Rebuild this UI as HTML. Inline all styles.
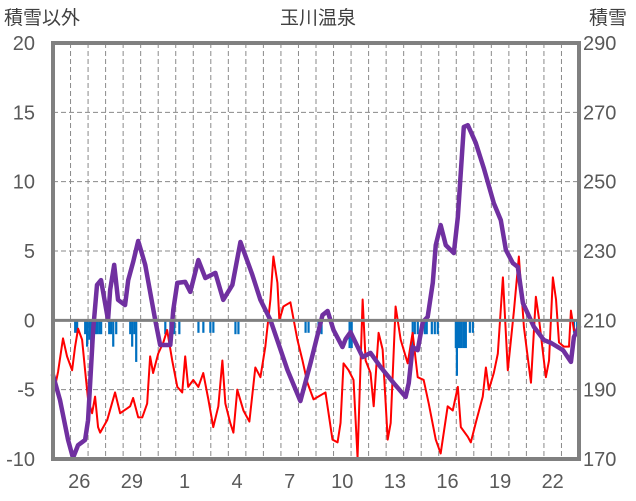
<!DOCTYPE html>
<html><head><meta charset="utf-8"><style>
html,body{margin:0;padding:0;background:#fff;}
svg{display:block;font-family:"Liberation Sans","Noto Sans CJK JP",sans-serif;}
</style></head><body>
<svg id="chart" width="636" height="501" viewBox="0 0 636 501">
<text x="4" y="24" font-size="19" fill="#404040">積雪以外</text>
<text x="318" y="24" font-size="19" fill="#404040" text-anchor="middle">玉川温泉</text>
<text x="589" y="24" font-size="19" fill="#404040">積雪</text>
<g id="grid"></g>
<g id="bars"></g>
<g id="lines"></g>
<g id="axes"></g>
</svg>
<script>
const xLabels = ["26","29","1","4","7","10","13","16","19","22"];
const xLabelDays = [1,4,7,10,13,16,19,22,25,28];
const leftTicks = [20,15,10,5,0,-5,-10];
const rightTicks = [290,270,250,230,210,190,170];
const snowDays = [0,0.4,0.86,1.14,1.43,1.83,2.0,2.29,2.51,2.74,3.14,3.26,3.49,3.71,4.11,4.29,4.57,4.86,5.26,5.83,6.11,6.69,6.86,7.09,7.54,7.83,8.29,8.69,9.26,9.71,10.23,10.69,11.37,11.83,12.4,13.37,14.11,14.69,15.37,15.66,16.0,16.51,16.69,16.97,17.66,18.11,18.69,19.43,20.11,20.29,20.51,20.8,21.09,21.37,21.66,21.83,22.11,22.4,22.86,23.09,23.43,23.66,24.11,24.57,25.14,25.54,25.83,26.23,26.51,26.8,27.43,28.0,28.4,29.09,29.54,29.71,30];
const snowDepth = [194.2,187.0,175.5,170.3,174.0,175.5,181.2,207.2,220.2,221.6,210.1,218.8,226.0,215.9,214.4,221.6,226.8,232.9,226.0,210.1,202.9,202.9,213.0,220.8,221.1,218.2,227.4,222.2,223.7,215.9,220.2,232.6,223.1,215.9,210.1,195.7,186.7,197.7,211.5,212.7,207.2,202.3,204.6,206.6,199.4,200.6,196.5,191.9,187.9,191.9,202.3,201.4,209.5,211.0,220.8,231.7,237.5,231.7,229.4,239.8,265.8,266.3,261.2,253.9,243.8,238.9,230.3,226.5,225.4,215.0,208.1,204.3,203.5,201.4,198.0,205.2,208.1];
const tempDays = [0,.29,.57,.8,1.09,1.26,1.43,1.66,1.83,2.0,2.23,2.4,2.57,2.69,3.09,3.54,3.83,4.4,4.57,4.86,5.09,5.37,5.54,5.71,6.0,6.29,6.51,6.8,7.09,7.37,7.54,7.71,8.0,8.29,8.57,8.86,9.14,9.43,9.66,9.83,10.11,10.29,10.51,10.86,11.2,11.54,11.83,12.11,12.4,12.57,12.8,12.91,13.14,13.54,13.94,14.23,14.51,14.86,15.54,15.94,16.23,16.4,16.57,16.86,17.14,17.37,17.66,17.83,18.11,18.29,18.57,18.8,19.09,19.26,19.54,19.83,20.23,20.51,20.8,21.14,21.43,21.83,22.11,22.51,22.8,23.09,23.26,23.66,23.83,24.11,24.51,24.69,24.86,25.14,25.37,25.66,25.94,26.29,26.57,26.86,27.26,27.54,27.71,28.11,28.29,28.51,28.69,28.86,29.14,29.43,29.54,29.71,30];
const tempValues = [-5.5,-3.7,-1.3,-2.6,-3.6,-1.9,-0.6,-1.4,-3.6,-5.7,-6.7,-5.5,-7.7,-8.1,-7.2,-5.2,-6.7,-6.2,-5.6,-7.0,-7.0,-6.0,-2.6,-3.8,-2.4,-1.6,-0.7,-2.9,-4.8,-5.2,-2.6,-4.8,-4.3,-4.8,-3.8,-5.7,-7.7,-6.2,-2.9,-6.0,-7.4,-8.1,-5.0,-6.5,-7.3,-3.4,-4.1,-1.9,1.5,4.6,2.7,0.0,1.0,1.3,-1.4,-2.9,-4.5,-5.7,-5.2,-8.6,-8.8,-7.4,-3.1,-3.6,-4.3,-9.9,1.5,-2.9,-3.8,-6.2,-0.9,-2.1,-8.6,-7.4,1.0,-1.4,-3.1,-0.9,-4.1,-4.3,-6.0,-8.6,-9.6,-6.2,-6.5,-4.8,-7.7,-8.4,-8.8,-7.4,-5.5,-3.4,-5.0,-3.8,-2.4,3.1,-3.6,0.7,4.6,-0.5,-4.5,1.7,0.2,-4.1,-2.9,3.1,1.5,-1.6,-1.9,-1.9,0.7,-0.7,-1.2];
const precDays = [1.26,1.37,1.83,1.94,2.06,2.17,2.29,2.4,2.51,2.63,2.74,3.2,3.31,3.43,3.6,4.4,4.51,4.63,4.74,6.4,6.69,6.8,6.91,7.2,8.29,8.57,8.97,9.14,10.4,10.57,14.4,14.57,15.14,15.31,16.91,17.03,20.51,20.63,20.8,21.2,21.31,21.6,21.77,21.94,22.97,23.03,23.09,23.2,23.31,23.43,23.54,23.77,23.94,29.71,29.89];
const precValues = [-0.9,-0.9,-1.0,-1.9,-1.4,-1.9,-1.9,-1.0,-1.0,-1.0,-1.0,-1.0,-1.0,-1.9,-1.0,-1.0,-1.9,-1.0,-3.0,-1.0,-1.0,-1.0,-1.0,-1.0,-0.9,-0.9,-0.9,-0.9,-1.0,-1.0,-0.9,-0.9,-1.0,-1.0,-2.0,-2.0,-2.0,-1.0,-1.0,-1.0,-1.0,-1.0,-1.0,-1.0,-2.0,-4.0,-2.0,-2.0,-2.0,-2.0,-2.0,-0.9,-0.9,-0.9,-0.9];

const NS="http://www.w3.org/2000/svg";
const X0=53,X1=579,Y0=43,Y1=459,DAYS=30;
const xs=d=>X0+(X1-X0)*d/DAYS;
const yl=v=>Y1-(v+10)/30*(Y1-Y0);
const yr=v=>Y1-(v-170)/120*(Y1-Y0);
function mk(tag,attrs,parent){const e=document.createElementNS(NS,tag);for(const k in attrs)e.setAttribute(k,attrs[k]);parent.appendChild(e);return e;}
const grid=document.getElementById('grid'),bars=document.getElementById('bars'),lines=document.getElementById('lines'),axes=document.getElementById('axes');
for(let d=1;d<DAYS;d++){const l=mk('line',{x1:xs(d),x2:xs(d),y1:Y0,y2:Y1,stroke:'#8a8a8a','stroke-width':1,'stroke-dasharray':'5,3'},grid);

}
leftTicks.forEach(v=>{if(v!==0&&v!==20&&v!==-10){const l=mk('line',{x1:X0,x2:X1,y1:yl(v),y2:yl(v),stroke:'#8a8a8a','stroke-width':1,'stroke-dasharray':'5,3'},grid);

}});
precDays.forEach((d,i)=>{const y=yl(0),h=yl(precValues[i])-y;const r=mk('rect',{x:xs(d)-1,y:y,width:2.2,height:h,fill:'#0070c0'},bars);

});
const zl=mk('line',{x1:X0,x2:X1,y1:yl(0),y2:yl(0),stroke:'#808080','stroke-width':3},axes);


const tp=mk('polyline',{points:tempDays.map((d,i)=>xs(d)+','+yl(tempValues[i])).join(' '),fill:'none',stroke:'#ff0000','stroke-width':2,'stroke-linejoin':'round'},lines);


const sp=mk('polyline',{points:snowDays.map((d,i)=>xs(d)+','+yr(snowDepth[i])).join(' '),fill:'none',stroke:'#7030a0','stroke-width':4.5,'stroke-linejoin':'round','stroke-linecap':'round'},lines);


const bd=mk('rect',{x:X0,y:Y0,width:X1-X0,height:Y1-Y0,fill:'none',stroke:'#808080','stroke-width':4},axes);


leftTicks.forEach(v=>{const t=mk('text',{x:35,y:yl(v)+7,'font-size':20,fill:'#595959','text-anchor':'end'},axes);t.textContent=v;

});
rightTicks.forEach(v=>{const t=mk('text',{x:583,y:yr(v)+7,'font-size':20,fill:'#595959'},axes);t.textContent=v;

});
xLabels.forEach((s,i)=>{const t=mk('text',{x:xs(xLabelDays[i]+0.5),y:488,'font-size':20,fill:'#595959','text-anchor':'middle'},axes);t.textContent=s;

});
</script>
</body></html>
